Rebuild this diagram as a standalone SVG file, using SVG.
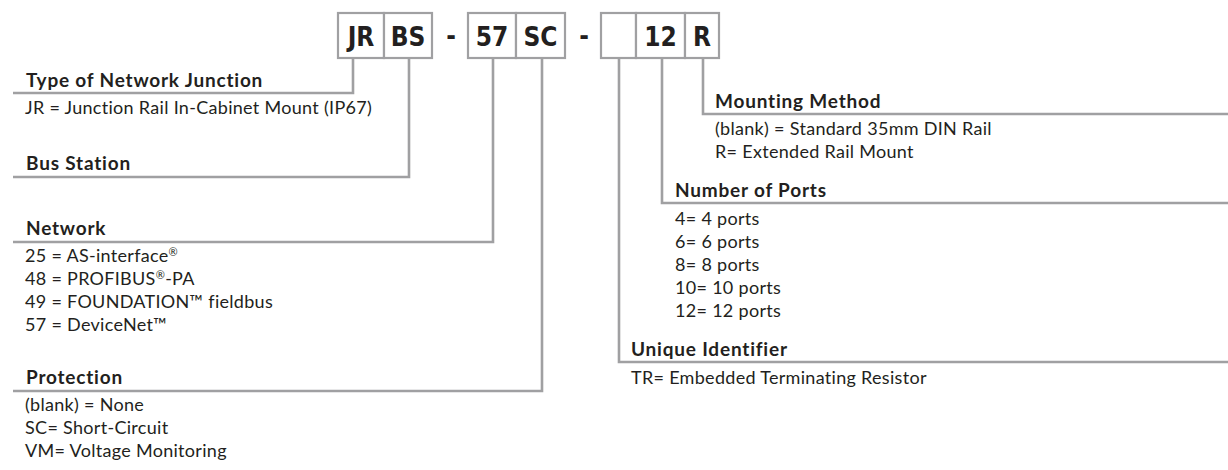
<svg xmlns="http://www.w3.org/2000/svg" width="1228" height="470" viewBox="0 0 1228 470">
<style>
.bg{fill:#ffffff}
.box{fill:#ffffff;stroke:#a0a0a2;stroke-width:2.2}
.code{font-family:"Liberation Sans Narrow","DejaVu Sans Condensed","Roboto",sans-serif;font-weight:bold;font-size:26px;fill:#231f20;text-anchor:middle}
.conn{fill:none;stroke:#a0a0a2;stroke-width:2.6}
.hdr{font-family:"Lato","Noto Sans",sans-serif;font-weight:bold;font-size:19px;letter-spacing:0.8px;fill:#231f20}
.txt{font-family:"Lato","Noto Sans",sans-serif;font-size:18px;letter-spacing:0.3px;fill:#231f20}
.reg{font-size:11px}
</style>
<rect class="bg" x="0" y="0" width="1228" height="470"/>
<g id="connectors">
<path class="conn" d="M353 58 V93 H13"/>
<path class="conn" d="M409 58 V177 H13"/>
<path class="conn" d="M493 58 V242 H13"/>
<path class="conn" d="M542 58 V391 H13"/>
<path class="conn" d="M619 58 V362 H1228"/>
<path class="conn" d="M662 58 V203 H1228"/>
<path class="conn" d="M703 58 V114 H1228"/>
</g>
<g id="code">
<rect class="box" x="338" y="13" width="46" height="45"/>
<text class="code" x="361" y="46">JR</text>
<rect class="box" x="384" y="13" width="48" height="45"/>
<text class="code" x="408" y="46">BS</text>
<text class="code" x="451" y="45">-</text>
<rect class="box" x="468" y="13" width="48" height="45"/>
<text class="code" x="492" y="46">57</text>
<rect class="box" x="516" y="13" width="49" height="45"/>
<text class="code" x="540.5" y="46">SC</text>
<text class="code" x="584" y="45">-</text>
<rect class="box" x="601" y="13" width="35" height="45"/>
<rect class="box" x="636" y="13" width="49" height="45"/>
<text class="code" x="660.5" y="46">12</text>
<rect class="box" x="685" y="13" width="34" height="45"/>
<text class="code" x="702" y="46">R</text>
</g>
<g id="type-of-network-junction">
<text class="hdr" x="26" y="87">Type of Network Junction</text>
<text class="txt" x="25" y="114">JR = Junction Rail In-Cabinet Mount (IP67)</text>
</g>
<g id="bus-station">
<text class="hdr" x="26" y="170">Bus Station</text>
</g>
<g id="network">
<text class="hdr" x="26" y="235">Network</text>
<text class="txt" x="25" y="262">25 = AS-interface<tspan class="reg" dy="-6">®</tspan></text>
<text class="txt" x="25" y="285">48 = PROFIBUS<tspan class="reg" dy="-6">®</tspan><tspan dy="6">-PA</tspan></text>
<text class="txt" x="25" y="308">49 = FOUNDATION™ fieldbus</text>
<text class="txt" x="25" y="331">57 = DeviceNet™</text>
</g>
<g id="protection">
<text class="hdr" x="26" y="384">Protection</text>
<text class="txt" x="25" y="411">(blank) = None</text>
<text class="txt" x="25" y="434">SC= Short-Circuit</text>
<text class="txt" x="25" y="457">VM= Voltage Monitoring</text>
</g>
<g id="mounting-method">
<text class="hdr" x="715" y="108">Mounting Method</text>
<text class="txt" x="715" y="135">(blank) = Standard 35mm DIN Rail</text>
<text class="txt" x="715" y="158">R= Extended Rail Mount</text>
</g>
<g id="number-of-ports">
<text class="hdr" x="675" y="197">Number of Ports</text>
<text class="txt" x="675" y="225">4= 4 ports</text>
<text class="txt" x="675" y="248">6= 6 ports</text>
<text class="txt" x="675" y="271">8= 8 ports</text>
<text class="txt" x="675" y="294">10= 10 ports</text>
<text class="txt" x="675" y="317">12= 12 ports</text>
</g>
<g id="unique-identifier">
<text class="hdr" x="631" y="356">Unique Identifier</text>
<text class="txt" x="631" y="384">TR= Embedded Terminating Resistor</text>
</g>
</svg>
